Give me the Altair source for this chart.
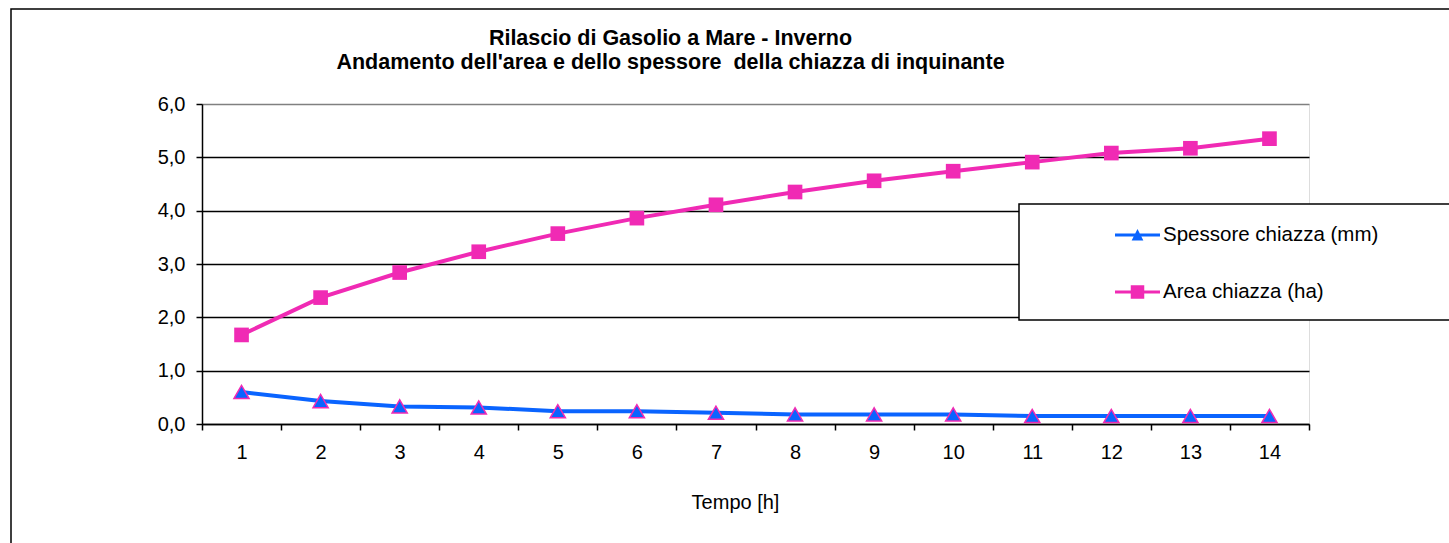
import altair as alt
import pandas as pd

# ---- data ----
tempo = list(range(1, 15))
spessore = [0.60, 0.43, 0.33, 0.31, 0.24, 0.24, 0.21, 0.18, 0.18, 0.18, 0.15, 0.15, 0.15, 0.15]
area = [1.67, 2.37, 2.84, 3.23, 3.57, 3.86, 4.11, 4.35, 4.56, 4.74, 4.91, 5.08, 5.17, 5.35]
series_names = ["Spessore chiazza (mm)", "Area chiazza (ha)"]
y_ticks = [0, 1, 2, 3, 4, 5, 6]
title_lines = [
    "Rilascio di Gasolio a Mare - Inverno",
    "Andamento dell'area e dello spessore\u00a0 della chiazza di inquinante",
]
x_title = "Tempo [h]"

BLUE = "#0A64FF"
PINK = "#F02AB4"
FONT = "Liberation Sans"

rows = []
for t, s, a in zip(tempo, spessore, area):
    rows.append({"t": t, "serie": series_names[0], "v": s})
    rows.append({"t": t, "serie": series_names[1], "v": a})
df = pd.DataFrame(rows)

W, H = 1107, 320

x_enc = alt.X(
    "t:O",
    scale=alt.Scale(paddingInner=0, paddingOuter=0),
    axis=alt.Axis(
        title=x_title, tickBand="extent", labelAngle=0, labelFont=FONT,
        labelFontSize=20, labelColor="black", tickColor="black", tickSize=6,
        tickWidth=1.5, domainColor="black", domainWidth=1.5, labelPadding=12,
        titleFont=FONT, titleFontSize=20, titleFontWeight="normal",
        titleColor="black", titlePadding=30, titleX=533, grid=False,
    ),
)
y_enc = alt.Y(
    "v:Q",
    scale=alt.Scale(domain=[0, 6], nice=False),
    axis=alt.Axis(
        title=None, values=y_ticks,
        labelExpr="replace(format(datum.value, '.1f'), '.', ',')",
        labelFont=FONT, labelFontSize=20, labelColor="black",
        tickColor="black", tickSize=6, tickWidth=1.5,
        domainColor="black", domainWidth=1.5, labelPadding=11,
        grid=True,
        gridColor={"condition": {"test": "datum.value >= 6", "value": "#808080"}, "value": "black"},
        gridWidth=1.3,
    ),
)

base = alt.Chart(df)

line_s = base.transform_filter(alt.datum.serie == series_names[0]).mark_line(
    color=BLUE, strokeWidth=4).encode(x=x_enc, y=y_enc)
pts_s = base.transform_filter(alt.datum.serie == series_names[0]).mark_point(
    shape="triangle-up", filled=True, fill=BLUE, stroke=PINK, strokeWidth=1.5,
    size=230, opacity=1).encode(x=x_enc, y=y_enc)
line_a = base.transform_filter(alt.datum.serie == series_names[1]).mark_line(
    color=PINK, strokeWidth=4).encode(x=x_enc, y=y_enc)
pts_a = base.transform_filter(alt.datum.serie == series_names[1]).mark_point(
    shape="square", filled=True, fill=PINK, size=215, opacity=1).encode(x=x_enc, y=y_enc)

one = pd.DataFrame({"k": [0]})
outer_border = alt.Chart(one).mark_rect(
    fillOpacity=0, stroke="black", strokeWidth=1.5).encode(
    x=alt.value(-191), x2=alt.value(1300), y=alt.value(-95), y2=alt.value(520))
legend_box = alt.Chart(one).mark_rect(
    fill="white", stroke="black", strokeWidth=1.5).encode(
    x=alt.value(817), x2=alt.value(1300), y=alt.value(100), y2=alt.value(216))

path_tri = "M-1,-0.07H1V0.07H-1Z M0,-0.27L0.26,0.24L-0.26,0.24Z"
path_sq = "M-1,-0.07H1V0.07H-1Z M-0.3,-0.3H0.3V0.3H-0.3Z"

leg_props = dict(
    orient="none", legendX=913, legendY=108.5, title=None, padding=0,
    rowPadding=24, labelFont=FONT, labelFontSize=20.5, labelColor="black",
    labelOffset=3, labelLimit=500, symbolSize=2025, symbolStrokeWidth=0,
)
legend_layer = alt.Chart(pd.DataFrame({"serie": series_names, "t": [1, 1], "v": [0, 0]})).transform_filter(
    "false").mark_point(filled=True, size=2025, opacity=1).encode(
    x=x_enc, y=y_enc,
    color=alt.Color("serie:N", scale=alt.Scale(domain=series_names, range=[BLUE, PINK]),
                    legend=alt.Legend(**leg_props)),
    shape=alt.Shape("serie:N", scale=alt.Scale(domain=series_names, range=[path_tri, path_sq]),
                    legend=alt.Legend(**leg_props)),
)

chart = alt.layer(
    outer_border, line_s, pts_s, line_a, pts_a, legend_box, legend_layer
).properties(
    width=W, height=H,
    title=alt.TitleParams(
        text=title_lines, font=FONT, fontSize=21.5, fontWeight="bold", color="black",
        anchor="middle", dx=-85, offset=0, dy=65, lineHeight=24,
    ),
    autosize=alt.AutoSizeParams(type="none"),
    padding={"left": 202, "top": 104, "right": 140, "bottom": 119},
).configure_view(stroke="#808080", strokeWidth=1).configure(background="white")

chart.save("out.html", embed_options={"renderer": "svg", "actions": False})
